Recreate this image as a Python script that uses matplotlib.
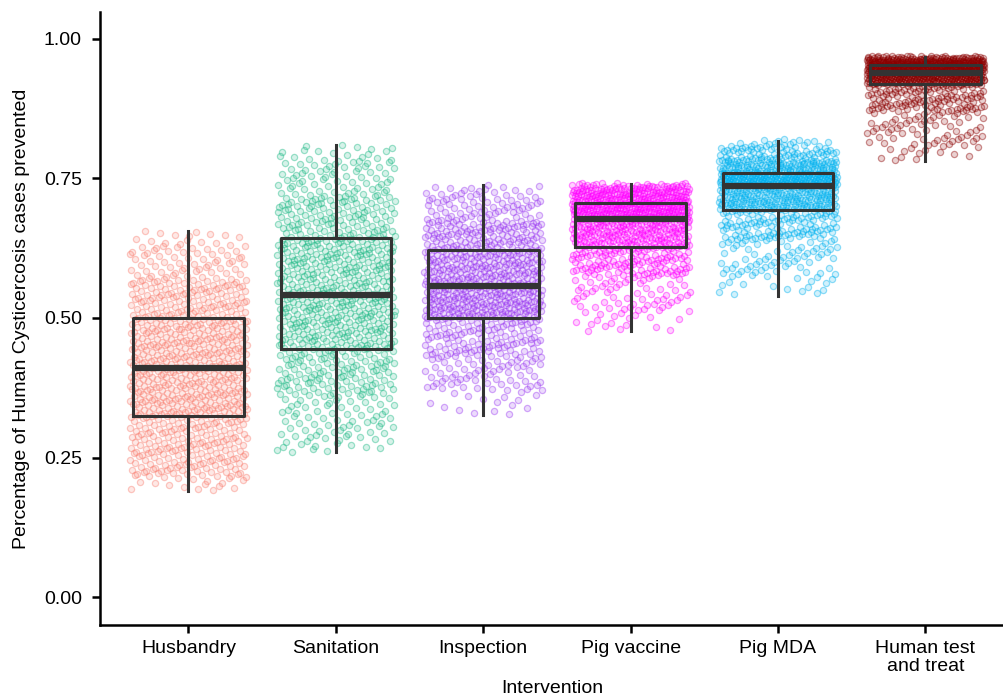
import numpy as np
import matplotlib
matplotlib.use('Agg')
import matplotlib.pyplot as plt

# interventions (x categories)
interventions = ['Husbandry', 'Sanitation', 'Inspection', 'Pig vaccine',
                 'Pig MDA', 'Human test\nand treat']
colors = ['#FA8072', '#1DB985', '#9B3BF2', '#FF00FF', '#00B2F0', '#8B0000']

# box statistics
whisker_lo = [0.190, 0.260, 0.326, 0.477, 0.539, 0.781]
q1 = [0.324, 0.444, 0.500, 0.627, 0.694, 0.919]
median = [0.410, 0.541, 0.557, 0.677, 0.737, 0.939]
q3 = [0.500, 0.643, 0.622, 0.706, 0.760, 0.953]
whisker_hi = [0.656, 0.810, 0.738, 0.740, 0.817, 0.968]

# estimated spread of the simulated runs (quantiles of each point cloud)
q_levels = [0.0, 0.02, 0.10, 0.25, 0.50, 0.75, 0.90, 0.98, 1.0]
husbandry_q = [0.190, 0.215, 0.255, 0.324, 0.410, 0.500, 0.570, 0.630, 0.656]
sanitation_q = [0.260, 0.285, 0.360, 0.444, 0.541, 0.643, 0.720, 0.785, 0.810]
inspection_q = [0.326, 0.370, 0.430, 0.500, 0.557, 0.622, 0.675, 0.720, 0.738]
vaccine_q = [0.477, 0.510, 0.575, 0.627, 0.677, 0.706, 0.725, 0.737, 0.742]
mda_q = [0.541, 0.575, 0.640, 0.694, 0.737, 0.760, 0.785, 0.808, 0.820]
human_q = [0.781, 0.810, 0.870, 0.919, 0.939, 0.953, 0.961, 0.967, 0.970]
n_runs = 800


def main():
    plt.rcParams['font.family'] = ['Liberation Sans', 'DejaVu Sans']
    fig = plt.figure(figsize=(10.04, 6.98), dpi=100)
    ax = fig.add_axes([100 / 1004, 73 / 698, 904 / 1004, 613 / 698])

    clouds = [husbandry_q, sanitation_q, inspection_q, vaccine_q, mda_q, human_q]
    idx = np.arange(n_runs)
    # quasi-random (R2 sequence) placement, no RNG
    levels = (0.5 + idx * 0.7548776662) % 1.0
    offsets = ((0.5 + idx * 0.5698402910) % 1.0) * 0.8 - 0.4
    for i, (qs, col) in enumerate(zip(clouds, colors)):
        lv = (levels + 0.37 * i) % 1.0
        yv = np.interp(lv, q_levels, qs)
        xv = (i + 1) + np.roll(offsets, 97 * i)
        ax.scatter(xv, yv, s=20, facecolor=matplotlib.colors.to_rgba(col, 0.18),
                   edgecolor=matplotlib.colors.to_rgba(col, 0.42), linewidth=0.9,
                   zorder=1)

    stats = []
    for i in range(len(interventions)):
        stats.append(dict(whislo=whisker_lo[i], q1=q1[i], med=median[i],
                          q3=q3[i], whishi=whisker_hi[i]))
    ax.bxp(stats, positions=np.arange(1, 7), widths=0.75, showfliers=False,
           showcaps=False,
           boxprops=dict(color='#333333', linewidth=2.2),
           whiskerprops=dict(color='#333333', linewidth=2.2),
           medianprops=dict(color='#333333', linewidth=4.5),
           manage_ticks=False, zorder=3)

    ax.set_xlim(0.4, 6.533)
    ax.set_ylim(-0.05, 1.048)
    ax.set_xticks(np.arange(1, 7))
    ax.set_xticklabels(interventions, fontsize=14, linespacing=1.05)
    ax.set_yticks([0, 0.25, 0.5, 0.75, 1.0])
    ax.set_yticklabels(['0.00', '0.25', '0.50', '0.75', '1.00'], fontsize=14)
    ax.set_xlabel('Intervention', fontsize=14, labelpad=4)
    ax.set_ylabel('Percentage of Human Cysticercosis cases prevented', fontsize=14,
                  labelpad=10)
    for side in ['top', 'right']:
        ax.spines[side].set_visible(False)
    for side in ['left', 'bottom']:
        ax.spines[side].set_linewidth(1.8)
    ax.tick_params(width=1.8, length=6, color='black', labelcolor='black')
    ax.tick_params(axis='y', pad=7)
    ax.tick_params(axis='x', pad=5)

    fig.savefig('out.png', dpi=100)


if __name__ == '__main__':
    main()
